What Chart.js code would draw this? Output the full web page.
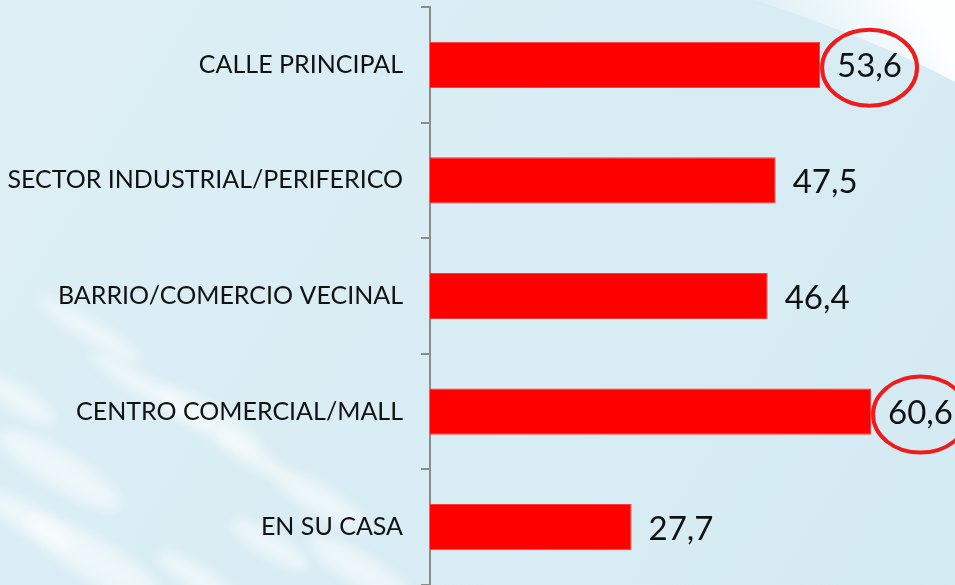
<!DOCTYPE html>
<html>
<head>
<meta charset="utf-8">
<script src="https://cdn.jsdelivr.net/npm/chart.js@4"></script>
<style>
  html, body { margin: 0; padding: 0; background: #d8edf4; }
  #wrap { width: 955px; height: 585px; position: relative; }
</style>
</head>
<body>
<div id="wrap"><canvas id="myChart1"></canvas></div>
<script>
// datos
var lugares = ['CALLE PRINCIPAL', 'SECTOR INDUSTRIAL/PERIFERICO', 'BARRIO/COMERCIO VECINAL', 'CENTRO COMERCIAL/MALL', 'EN SU CASA'];
var valores = [53.6, 47.5, 46.4, 60.6, 27.7];
var marcados = [true, false, false, true, false];

var FUENTE = 'Lato, "Open Sans", sans-serif';

// fondo celeste con estela blanca
var fondo = {
  id: 'fondo',
  beforeDraw: function (chart) {
    var ctx = chart.ctx, w = chart.width, h = chart.height;
    ctx.save();
    var g = ctx.createLinearGradient(0, 0, w, h);
    g.addColorStop(0, '#ddeff5');
    g.addColorStop(1, '#d4eaf2');
    ctx.fillStyle = g;
    ctx.fillRect(0, 0, w, h);

    // estela superior derecha
    ctx.beginPath();
    ctx.moveTo(w * 0.79, 0);
    ctx.quadraticCurveTo(w * 0.92, h * 0.07, w, h * 0.14);
    ctx.lineTo(w, 0);
    ctx.closePath();
    var g2 = ctx.createLinearGradient(w * 0.85, h * 0.12, w * 0.95, 0);
    g2.addColorStop(0, 'rgba(255,255,255,0.2)');
    g2.addColorStop(1, 'rgba(255,255,255,0.95)');
    ctx.fillStyle = g2;
    ctx.fill();

    // manchas difusas abajo a la izquierda
    var manchas = [[60, 470, 70, 18], [95, 560, 80, 20], [210, 420, 60, 14], [150, 390, 70, 10],
                   [320, 500, 55, 14], [360, 570, 60, 16], [270, 545, 45, 12], [30, 520, 50, 14],
                   [200, 580, 50, 12], [250, 455, 40, 10], [90, 330, 60, 10], [20, 400, 40, 12]];
    ctx.filter = 'blur(6px)';
    ctx.fillStyle = 'rgba(255,255,255,0.5)';
    manchas.forEach(function (m) {
      ctx.beginPath();
      ctx.ellipse(m[0], m[1], m[2], m[3], 0.55, 0, Math.PI * 2);
      ctx.fill();
    });
    ctx.filter = 'none';
    ctx.restore();
  }
};

// valores al final de cada barra y circulos
var etiquetas = {
  id: 'etiquetas',
  afterDatasetsDraw: function (chart) {
    var ctx = chart.ctx;
    var meta = chart.getDatasetMeta(0);
    ctx.save();
    ctx.font = '33px ' + FUENTE;
    ctx.fillStyle = '#111111';
    ctx.textBaseline = 'middle';
    ctx.textAlign = 'left';
    meta.data.forEach(function (bar, i) {
      var txt = valores[i].toFixed(1).replace('.', ',');
      var x = bar.x + 17;
      var y = bar.y + 2;
      ctx.fillText(txt, x, y);
      if (marcados[i]) {
        var tw = ctx.measureText(txt).width;
        ctx.beginPath();
        ctx.strokeStyle = '#ee1c1c';
        ctx.lineWidth = 4;
        ctx.ellipse(x + tw / 2, y + 1, tw / 2 + 15, 38, 0, 0, Math.PI * 2);
        ctx.stroke();
      }
    });
    ctx.restore();
  }
};

var ctx = document.getElementById('myChart1');
new Chart(ctx, {
  type: 'bar',
  data: {
    labels: lugares,
    datasets: [{
      data: valores,
      backgroundColor: '#ff0000',
      borderColor: '#ff3b3b',
      borderWidth: 1,
      categoryPercentage: 0.5,
      barPercentage: 0.8
    }]
  },
  options: {
    indexAxis: 'y',
    responsive: true,
    maintainAspectRatio: false,
    animation: false,
    layout: { padding: { top: 7, right: 1, bottom: 0, left: 0 } },
    plugins: {
      legend: { display: false },
      tooltip: { enabled: false }
    },
    scales: {
      x: {
        display: false,
        min: 0,
        max: 72
      },
      y: {
        afterFit: function (axis) {
          axis.width = 430;
          axis.paddingTop = 0;
          axis.paddingBottom = 0;
        },
        grid: {
          display: true,
          drawOnChartArea: false,
          tickLength: 9,
          color: '#8c8c8c',
          lineWidth: 2
        },
        border: { display: true, color: '#8c8c8c', width: 2 },
        ticks: {
          padding: 18,
          color: '#111111',
          font: { family: FUENTE, size: 25 }
        }
      }
    }
  },
  plugins: [fondo, etiquetas]
});
</script>
</body>
</html>
